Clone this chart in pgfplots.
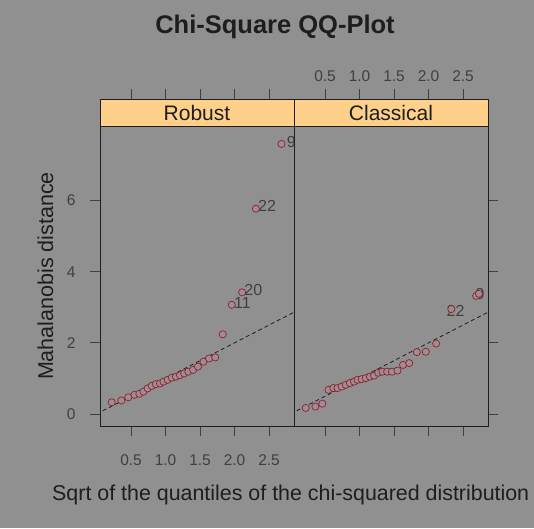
\documentclass[border=0pt]{standalone}
\usepackage{fontspec}
\setmainfont{Liberation Sans}
\usepackage{pgfplots}
\pgfplotsset{compat=1.18}
\definecolor{bgcol}{HTML}{909090}
\definecolor{stripcol}{HTML}{FFD08A}
\definecolor{ptcol}{HTML}{8E2030}
\definecolor{ptfill}{HTML}{A08D91}
\definecolor{inkcol}{HTML}{1E1E1E}

\pgfplotsset{panel/.style={
  scale only axis, width=194pt, height=327pt,
  xmin=0.05, xmax=2.862, ymin=-0.337, ymax=8.853,
  axis on top, axis line style={draw=inkcol, line width=0.9pt},
  tick align=outside, major tick length=10pt,
  tick style={draw=inkcol!85, line width=0.8pt},
  xtick={0.5,1.0,1.5,2.0,2.5}, ytick={0,2,4,6},
  /pgf/number format/assume math mode=true,
  xticklabel={\pgfmathprintnumber[fixed,fixed zerofill,precision=1]{\tick}},
  yticklabel={\pgfmathprintnumber[fixed,precision=0]{\tick}},
  tick label style={font=\fontsize{15.5}{16}\selectfont, text=inkcol!85},
  xtick pos=both,
}}

\begin{document}
\begin{tikzpicture}
\fill[bgcol] (0,0) rectangle (534pt,528pt);

% robust panel
\begin{axis}[panel, at={(100pt,102pt)}, anchor=south west,
  xticklabel pos=lower, ytick pos=left, yticklabel pos=left,
  xticklabel style={yshift=-15pt}, yticklabel style={xshift=-11pt}]
\addplot[inkcol, dash pattern=on 4pt off 3pt, line width=0.8pt] coordinates {(0,0) (3,3)};
\addplot[only marks, mark=*, mark size=3.6pt,
  mark options={draw=ptcol, fill=ptfill, line width=0.7pt}] coordinates {
  (0.22,0.33) (0.36,0.38) (0.46,0.47) (0.55,0.54) (0.62,0.57) (0.68,0.63)
  (0.74,0.72) (0.80,0.79) (0.86,0.84) (0.92,0.86) (0.97,0.91) (1.03,0.96)
  (1.09,1.02) (1.15,1.05) (1.21,1.09) (1.27,1.14) (1.33,1.19) (1.40,1.24)
  (1.47,1.33) (1.55,1.47) (1.63,1.56) (1.72,1.59) (1.83,2.24) (1.96,3.07)
  (2.11,3.42) (2.31,5.77) (2.68,7.59)};
\begin{scope}[every node/.style={font=\fontsize{16}{17}\selectfont, text=inkcol!85, anchor=west, inner sep=0pt}]
\node at (axis cs:2.757,7.65) {9};
\node at (axis cs:2.34,5.85) {22};
\node at (axis cs:2.14,3.49) {20};
\node at (axis cs:1.99,3.11) {11};
\end{scope}
\fill[stripcol] (rel axis cs:0,0.9174) rectangle (rel axis cs:1,1);
\draw[inkcol, line width=0.9pt] (rel axis cs:0,0.9174) -- (rel axis cs:1,0.9174);
\node[font=\fontsize{21}{22}\selectfont, text=inkcol] at (rel axis cs:0.5,0.9587) {Robust};
\end{axis}

% classical panel
\begin{axis}[panel, at={(294pt,102pt)}, anchor=south west,
  xticklabel pos=upper, ytick pos=right, yticklabels={},
  xticklabel style={yshift=4pt}]
\addplot[inkcol, dash pattern=on 4pt off 3pt, line width=0.8pt] coordinates {(0,0) (3,3)};
\addplot[only marks, mark=*, mark size=3.6pt,
  mark options={draw=ptcol, fill=ptfill, line width=0.7pt}] coordinates {
  (0.22,0.17) (0.36,0.21) (0.46,0.29) (0.55,0.68) (0.62,0.73) (0.68,0.73)
  (0.74,0.77) (0.80,0.82) (0.86,0.87) (0.92,0.91) (0.97,0.96) (1.03,0.98)
  (1.09,1.01) (1.15,1.05) (1.21,1.08) (1.27,1.16) (1.33,1.19) (1.40,1.19)
  (1.47,1.19) (1.55,1.22) (1.63,1.38) (1.72,1.43) (1.83,1.74) (1.96,1.75)
  (2.11,1.98) (2.33,2.95) (2.69,3.32) (2.73,3.38)};
\begin{scope}[every node/.style={font=\fontsize{16}{17}\selectfont, text=inkcol!85, anchor=west, inner sep=0pt}]
\node at (axis cs:2.26,2.89) {22};
\node at (axis cs:2.68,3.36) {9};
\end{scope}
\fill[stripcol] (rel axis cs:0,0.9174) rectangle (rel axis cs:1,1);
\draw[inkcol, line width=0.9pt] (rel axis cs:0,0.9174) -- (rel axis cs:1,0.9174);
\node[font=\fontsize{21}{22}\selectfont, text=inkcol] at (rel axis cs:0.5,0.9587) {Classical};
\end{axis}

\node[anchor=base, font=\bfseries\fontsize{25.5}{27}\selectfont, text=inkcol] at (275pt,494.7pt) {Chi-Square QQ-Plot};
\node[anchor=base, rotate=90, font=\fontsize{21.5}{23}\selectfont, text=inkcol] at (53pt,252pt) {Mahalanobis distance};
\node[anchor=base west, inner sep=0pt, font=\fontsize{21.4}{23}\selectfont, text=inkcol] at (52pt,27.3pt) {Sqrt of the quantiles of the chi-squared distribution};

\pgfresetboundingbox
\useasboundingbox (0,0) rectangle (534pt,528pt);
\end{tikzpicture}
\end{document}
